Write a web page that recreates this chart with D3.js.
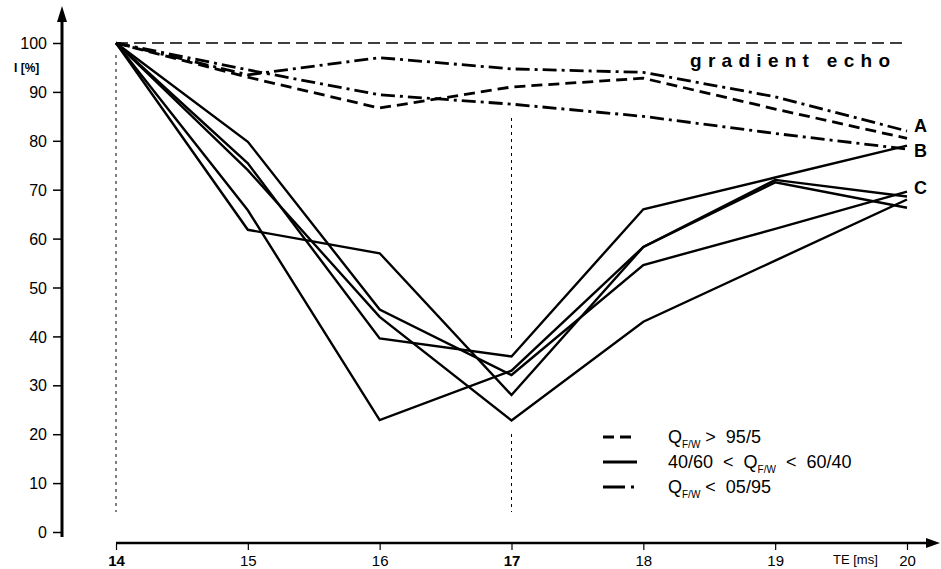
<!DOCTYPE html>
<html><head><meta charset="utf-8">
<script src="https://cdn.jsdelivr.net/npm/d3@7"></script>
<style>body{margin:0;background:#fff}svg{display:block}text{font-family:"Liberation Sans",Arial,sans-serif;fill:#000}</style>
</head><body>
<svg id="c" width="941" height="569"></svg>
<script>
const teValues = [14, 15, 16, 17, 18, 19, 20];
const yTicks = [0, 10, 20, 30, 40, 50, 60, 70, 80, 90, 100];
const gradientEcho = [100, 100, 100, 100, 100, 100, 100];
const highFat = [100, 93, 86.7, 91, 92.8, 86.5, 80.5];          // Q > 95/5 (dashed)
const lowFatA = [100, 93.5, 97, 94.7, 94, 89, 82];             // Q < 05/95 (dash-dot, A)
const lowFatB = [100, 94.5, 89.4, 87.5, 85, 81.5, 78.3];       // Q < 05/95 (dash-dot, B)
const mixed1 = [100, 61.8, 57, 28, 58.3, 71.5, 66.3];
const mixed2 = [100, 65.8, 22.9, 33, 58.3, 72, 68.6];
const mixed3 = [100, 75.4, 39.6, 35.9, 66, 72.5, 79];
const mixed4 = [100, 79.8, 45.5, 32.1, 54.6, 62, 69.6];
const mixed5 = [100, 74, 44, 22.8, 43, 55.5, 68];
const endLabels = [{t: "A", v: 83}, {t: "B", v: 78}, {t: "C", v: 70.5}];

const svg = d3.select("#c");
const x = d3.scaleLinear().domain([14, 20]).range([116, 907]);
const y = d3.scaleLinear().domain([0, 100]).range([532, 43]);
const line = d3.line().x((d, i) => x(teValues[i])).y(d => y(d));

// y axis
const ya = svg.append("g").attr("transform", "translate(62,0)")
  .call(d3.axisLeft(y).tickValues(yTicks).tickSize(9).tickPadding(6));
ya.select(".domain").remove();
ya.selectAll(".tick line").attr("stroke", "#000").attr("stroke-width", 1.5);
ya.selectAll(".tick text").attr("font-size", 16).attr("font-family", "Liberation Sans, Arial, sans-serif").attr("dy", "0.35em");
svg.append("line").attr("x1", 62).attr("x2", 62).attr("y1", 537).attr("y2", 20)
  .attr("stroke", "#000").attr("stroke-width", 3);
svg.append("path").attr("d", "M62,6 L57,22 L67,22 Z").attr("fill", "#000");
svg.append("text").attr("x", 14).attr("y", 72).attr("font-size", 12).attr("font-weight", "bold").text("I [%]");

// x axis
const xAxisY = 543;
const xa = svg.append("g").attr("transform", `translate(0,${xAxisY})`)
  .call(d3.axisBottom(x).tickValues(teValues).tickSize(7).tickPadding(5).tickFormat(d3.format("d")));
xa.select(".domain").remove();
xa.selectAll(".tick line").attr("stroke", "#000").attr("stroke-width", 1.2);
xa.selectAll(".tick text").attr("font-size", 15).attr("font-family", "Liberation Sans, Arial, sans-serif")
  .attr("font-weight", d => (d === 14 || d === 17) ? "bold" : "normal");
svg.append("line").attr("x1", x(14)).attr("x2", 928).attr("y1", xAxisY).attr("y2", xAxisY)
  .attr("stroke", "#000").attr("stroke-width", 2.5);
svg.append("path").attr("d", `M940,${xAxisY} L926,${xAxisY - 5} L926,${xAxisY + 5} Z`).attr("fill", "#000");
svg.append("text").attr("x", 833).attr("y", 564).attr("font-size", 13).text("TE [ms]");

// dotted reference lines
svg.append("line").attr("x1", x(14)).attr("x2", x(14)).attr("y1", 55).attr("y2", 512)
  .attr("stroke", "#000").attr("stroke-width", 1).attr("stroke-dasharray", "3,4");
svg.append("line").attr("x1", x(17)).attr("x2", x(17)).attr("y1", 118).attr("y2", 340)
  .attr("stroke", "#000").attr("stroke-width", 1).attr("stroke-dasharray", "3,4");
svg.append("line").attr("x1", x(17)).attr("x2", x(17)).attr("y1", 434).attr("y2", 512)
  .attr("stroke", "#000").attr("stroke-width", 1).attr("stroke-dasharray", "3,4");

// gradient echo reference
svg.append("path").datum(gradientEcho).attr("d", line).attr("fill", "none")
  .attr("stroke", "#000").attr("stroke-width", 1.6).attr("stroke-dasharray", "12,6");
svg.append("text").attr("x", 690).attr("y", 67).attr("font-size", 19).attr("font-weight", "bold")
  .attr("textLength", 200).attr("lengthAdjust", "spacing").text("gradient echo");

const solidStyle = {w: 2.4, dash: null};
const dashStyle = {w: 2.8, dash: "11,6"};
const dashDotStyle = {w: 2.8, dash: "14,5,3,5"};
const series = [
  {d: mixed1, s: solidStyle}, {d: mixed2, s: solidStyle}, {d: mixed3, s: solidStyle},
  {d: mixed4, s: solidStyle}, {d: mixed5, s: solidStyle},
  {d: highFat, s: dashStyle}, {d: lowFatA, s: dashDotStyle}, {d: lowFatB, s: dashDotStyle}
];
svg.append("g").selectAll("path").data(series).join("path")
  .attr("d", d => line(d.d)).attr("fill", "none").attr("stroke", "#000")
  .attr("stroke-width", d => d.s.w).attr("stroke-linejoin", "miter")
  .attr("stroke-dasharray", d => d.s.dash);

svg.append("g").selectAll("text").data(endLabels).join("text")
  .attr("x", 914).attr("y", d => y(d.v)).attr("dy", "0.35em")
  .attr("font-size", 18).attr("font-weight", "bold").text(d => d.t);

// legend
const legend = [
  {s: dashStyle, y: 437, parts: [["Q", ""], ["F/W", "sub"], [" >  95/5", ""]]},
  {s: solidStyle, y: 462, parts: [["40/60  <  Q", ""], ["F/W", "sub"], ["  <  60/40", ""]]},
  {s: {w: 2.8, dash: "22,6,3,30"}, y: 487, parts: [["Q", ""], ["F/W", "sub"], [" <  05/95", ""]]}
];
const lg = svg.append("g");
legend.forEach(l => {
  lg.append("line").attr("x1", 603).attr("x2", 637).attr("y1", l.y).attr("y2", l.y)
    .attr("stroke", "#000").attr("stroke-width", 2.8).attr("stroke-dasharray", l.s.dash);
  const t = lg.append("text").attr("x", 668).attr("y", l.y).attr("dy", "0.35em").attr("font-size", 18)
    .attr("xml:space", "preserve").style("white-space", "pre");
  l.parts.forEach(p => {
    const ts = t.append("tspan").text(p[0]);
    if (p[1] === "sub") ts.attr("font-size", 10).attr("dy", "5");
    else if (p[0] !== l.parts[0][0]) ts.attr("dy", "-5");
  });
});
</script>
</body></html>
